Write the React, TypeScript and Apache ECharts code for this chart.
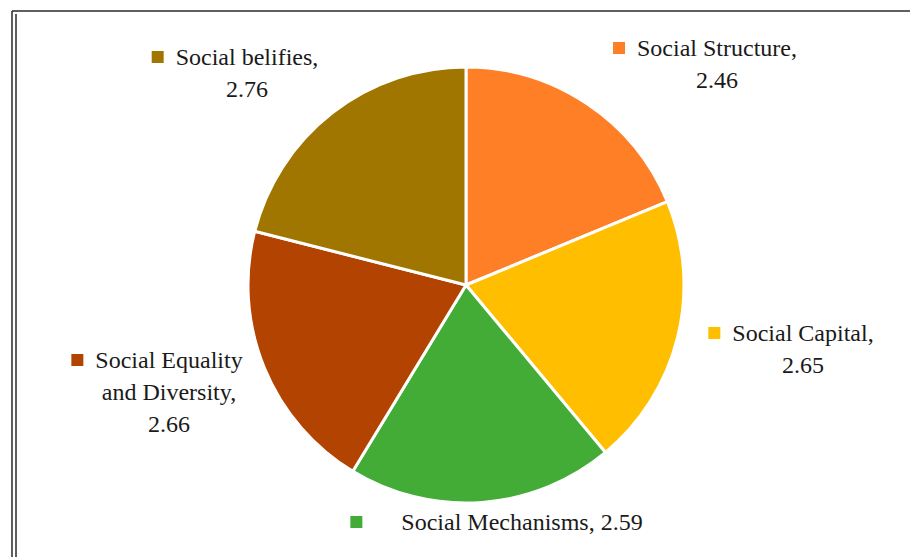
import React, { useEffect, useRef } from "react";
import * as echarts from "echarts";

const categories = [
  "Social Structure",
  "Social Capital",
  "Social Mechanisms",
  "Social Equality and Diversity",
  "Social belifies",
];
const values = [2.46, 2.65, 2.59, 2.66, 2.76];
const colors = ["#FF7F27", "#FFBF00", "#42AC36", "#B24300", "#A07600"];
// label text lines (how each label is broken in the reference)
const labelLines = [
  ["Social Structure,", "2.46"],
  ["Social Capital,", "2.65"],
  ["Social Mechanisms, 2.59"],
  ["Social Equality", "and Diversity,", "2.66"],
  ["Social belifies,", "2.76"],
];
// label anchor (center x, middle y) and gap between marker and text
const labelPos = [
  [717, 64, 12],
  [803, 349, 12],
  [522, 522, 39],
  [169, 392, 12],
  [247, 73, 12],
];

const FONT = "'Liberation Serif', 'DejaVu Serif', serif";

export default function App() {
  const ref = useRef<HTMLDivElement>(null);
  useEffect(() => {
    document.body.style.margin = "0";
    const chart = echarts.init(ref.current!, null, { renderer: "svg" });
    const rich: any = {
      t: { fontFamily: FONT, fontSize: 24, color: "#1a1a1a", lineHeight: 32 },
    };
    colors.forEach((c, i) => {
      rich["m" + i] = { backgroundColor: c, width: 12, height: 12, lineHeight: 32 };
      rich["g" + i] = { width: labelPos[i][2], height: 12, lineHeight: 32 };
      rich["p" + i] = { width: 12 + labelPos[i][2], height: 12, lineHeight: 32 };
    });
    chart.setOption({
      animation: false,
      backgroundColor: "#ffffff",
      textStyle: { fontFamily: FONT },
      graphic: [
        { type: "line", shape: { x1: 12, y1: 11, x2: 910, y2: 11 }, style: { stroke: "#2a2a2a", lineWidth: 1.5 } },
        { type: "line", shape: { x1: 12, y1: 11, x2: 12, y2: 557 }, style: { stroke: "#2a2a2a", lineWidth: 1.5 } },
        { type: "line", shape: { x1: 16, y1: 14, x2: 16, y2: 557 }, style: { stroke: "#2a2a2a", lineWidth: 1.5 } },
      ],
      series: [
        {
          type: "pie",
          center: [466, 285],
          radius: 218,
          startAngle: 90,
          clockwise: true,
          avoidLabelOverlap: false,
          itemStyle: { borderColor: "#ffffff", borderWidth: 3 },
          labelLine: { show: false },
          label: {
            show: true,
            position: "outside",
            align: "center",
            fontFamily: FONT,
            fontSize: 24,
            color: "#1a1a1a",
            rich,
            formatter: (p: any) => {
              const i = p.dataIndex;
              const lines = labelLines[i];
              const first = `{m${i}|}{g${i}|}{t|${lines[0]}}{p${i}|}`;
              const rest = lines.slice(1).map((l) => `{t|${l}}`);
              return [first, ...rest].join("\n");
            },
          },
          labelLayout: (p: any) => ({
            x: labelPos[p.dataIndex][0],
            y: labelPos[p.dataIndex][1],
            align: "center",
            verticalAlign: "middle",
          }),
          data: categories.map((name, i) => ({
            name,
            value: values[i],
            itemStyle: { color: colors[i] },
          })),
        },
      ],
    });
    return () => chart.dispose();
  }, []);
  return <div ref={ref} style={{ width: 910, height: 557 }} />;
}
